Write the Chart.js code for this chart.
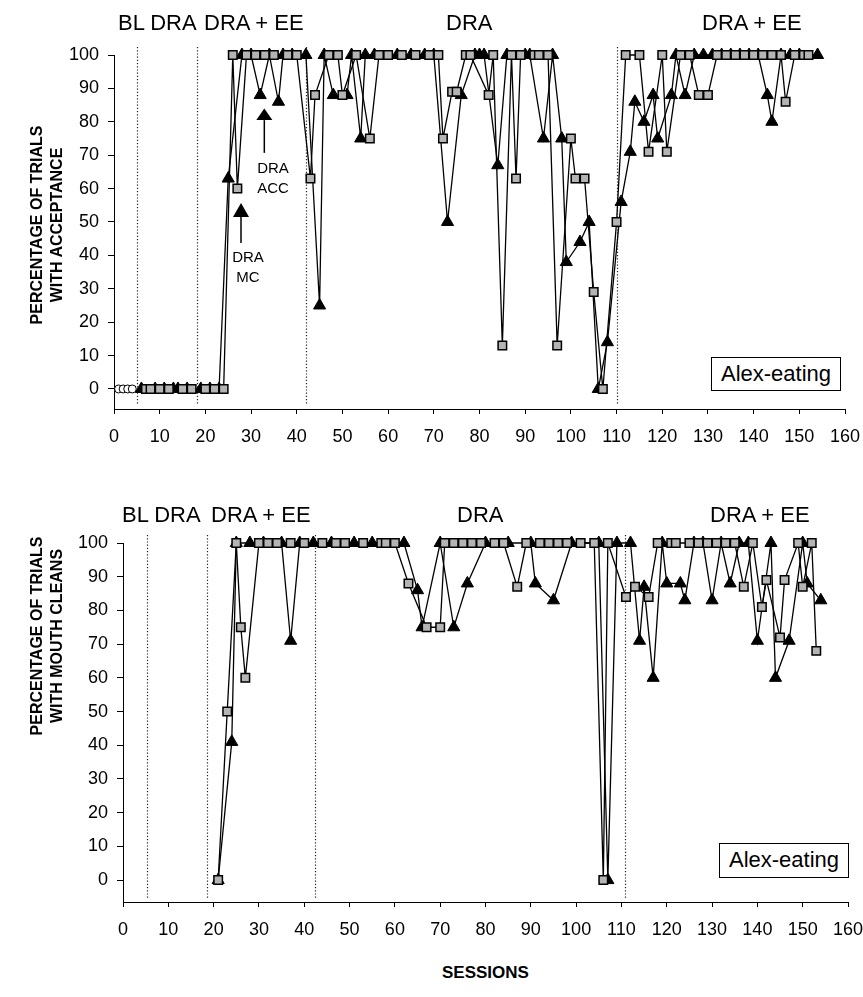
<!DOCTYPE html>
<html>
<head>
<meta charset="utf-8">
<script src="https://cdn.jsdelivr.net/npm/chart.js@4.4.1/dist/chart.umd.min.js"></script>
<style>
  body { margin: 0; background: #fff; font-family: Arial, "Liberation Sans", sans-serif; overflow: hidden; }
  #wrap { position: relative; width: 863px; height: 997px; }
  canvas { position: absolute; left: 0; }
  .lbl { position: absolute; white-space: nowrap; color: #000; line-height: 1; }
  .phase { font-size: 22px; }
  .ytitle { position: absolute; width: 260px; height: 40px; font-size: 16px; font-weight: bold;
            text-align: center; line-height: 20px; transform: rotate(-90deg); }
  .box { position: absolute; border: 1.5px solid #000; font-size: 22px; text-align: center;
         box-sizing: border-box; background: #fff; }
  .note { position: absolute; font-size: 15px; text-align: center; line-height: 20px; width: 50px; }
</style>
</head>
<body>
<div id="wrap">
  <canvas id="accChart" width="863" height="450" style="top:0"></canvas>
  <canvas id="mcChart" width="863" height="480" style="top:470px"></canvas>

  <div class="lbl phase" style="left:118px;top:12px">BL DRA</div>
  <div class="lbl phase" style="left:204px;top:12px">DRA + EE</div>
  <div class="lbl phase" style="left:446px;top:12px">DRA</div>
  <div class="lbl phase" style="left:702px;top:12px">DRA + EE</div>

  <div class="lbl phase" style="left:122px;top:504px">BL DRA</div>
  <div class="lbl phase" style="left:211px;top:504px">DRA + EE</div>
  <div class="lbl phase" style="left:457px;top:504px">DRA</div>
  <div class="lbl phase" style="left:710px;top:504px">DRA + EE</div>

  <div class="ytitle" style="left:-83px;top:205px">PERCENTAGE OF TRIALS<br>WITH ACCEPTANCE</div>
  <div class="ytitle" style="left:-83px;top:616px">PERCENTAGE OF TRIALS<br>WITH MOUTH CLEANS</div>

  <div class="box" style="left:711px;top:357px;width:130px;height:34px;line-height:31px">Alex-eating</div>
  <div class="box" style="left:719px;top:843px;width:130px;height:35px;line-height:32px">Alex-eating</div>

  <div class="note" style="left:248px;top:158px">DRA<br>ACC</div>
  <div class="note" style="left:223px;top:247px">DRA<br>MC</div>

  <div class="lbl" style="left:442px;top:964px;font-size:17px;font-weight:bold">SESSIONS</div>
</div>

<script>
// axis ticks
const xTicks = [0, 10, 20, 30, 40, 50, 60, 70, 80, 90, 100, 110, 120, 130, 140, 150, 160];
const yTicks = [0, 10, 20, 30, 40, 50, 60, 70, 80, 90, 100];

// phase change lines (sessions)
const accPhases = [5.0, 18.2, 42.0, 110.0];
const mcPhases = [5.3, 18.5, 42.4, 110.8];

// acceptance panel
const blSessions = [1, 2, 3, 4];
const blValues = [0, 0, 0, 0];

const accSqSessions = [7, 8, 10, 12, 15, 17, 20, 22, 24, 26, 27, 29, 31, 33, 35, 38, 40,
  43, 44, 47, 49, 50, 53, 56, 58, 60, 63, 66, 69, 71, 72, 74, 75, 77, 78, 82, 83, 85, 87, 88, 89,
  92, 93, 95, 97, 100, 101, 103, 105, 107,
  110, 112, 115, 117, 120, 121, 124, 126, 128, 130, 132, 134, 136, 138, 140, 142, 144, 146, 147,
  149, 151, 152];
const accSqValues = [0, 0, 0, 0, 0, 0, 0, 0, 0, 100, 60, 100, 100, 100, 100, 100, 100,
  63, 88, 100, 100, 88, 100, 75, 100, 100, 100, 100, 100, 100, 75, 89, 89, 100, 100, 88, 100, 13, 100, 63, 100,
  100, 100, 100, 13, 75, 63, 63, 29, 0,
  50, 100, 100, 71, 100, 71, 100, 100, 88, 88, 100, 100, 100, 100, 100, 100, 100, 100, 86,
  100, 100, 100];

const accTriSessions = [6, 9, 11, 13, 14, 16, 19, 21, 23, 25, 28, 30, 32, 34, 36, 37, 39, 42,
  45, 46, 48, 51, 52, 54, 55, 57, 62, 65, 68, 70, 73, 76, 79, 80, 81, 84, 86, 90, 91, 94, 96, 98,
  99, 102, 104, 106, 108,
  111, 113, 114, 116, 118, 119, 122, 123, 125, 127, 129, 131, 133, 135, 137, 139, 141, 143, 144,
  146, 148, 150, 154];
const accTriValues = [0, 0, 0, 0, 0, 0, 0, 0, 0, 63, 100, 100, 88, 100, 86, 100, 100, 100,
  25, 100, 88, 88, 100, 75, 100, 100, 100, 100, 100, 100, 50, 88, 100, 100, 100, 67, 100, 100, 100, 75, 100, 75,
  38, 44, 50, 0, 14,
  56, 71, 86, 80, 88, 75, 88, 100, 88, 100, 100, 100, 100, 100, 100, 100, 100, 88, 80,
  100, 100, 100, 100];

// mouth clean panel
const mcSqSessions = [21, 23, 25, 26, 27, 30, 32, 34, 37, 40, 44, 47, 49, 53, 57, 58, 60, 63, 67, 70,
  71, 73, 75, 77, 79, 82, 84, 87, 89, 92, 94, 96, 98, 101, 104, 106, 107,
  111, 113, 116, 118, 121, 122, 125, 127, 129, 131, 133, 135, 137, 139, 141, 142, 145, 146, 149,
  150, 152, 153];
const mcSqValues = [0, 50, 100, 75, 60, 100, 100, 100, 100, 100, 100, 100, 100, 100, 100, 100, 100, 88, 75, 75,
  100, 100, 100, 100, 100, 100, 100, 87, 100, 100, 100, 100, 100, 100, 100, 0, 100,
  84, 87, 84, 100, 100, 100, 100, 100, 100, 100, 100, 100, 87, 100, 81, 89, 72, 89, 100,
  87, 100, 68];

const mcTriSessions = [21, 24, 25, 28, 31, 35, 37, 39, 42, 46, 51, 55, 62, 65, 66, 70, 73, 76, 80, 85,
  90, 91, 95, 99, 105, 107, 109,
  112, 114, 115, 117, 119, 120, 123, 124, 126, 128, 130, 132, 134, 136, 138, 140, 143, 144, 147,
  150, 151, 154];
const mcTriValues = [0, 41, 100, 100, 100, 100, 71, 100, 100, 100, 100, 100, 100, 86, 75, 100, 75, 88, 100, 100,
  100, 88, 83, 100, 100, 0, 100,
  100, 71, 87, 60, 100, 88, 88, 83, 100, 100, 83, 100, 88, 100, 100, 71, 100, 60, 71,
  100, 88, 83];

const pts = (xs, ys) => xs.map((x, i) => ({ x: x, y: ys[i] }));

Chart.defaults.font.family = 'Arial, "Liberation Sans", sans-serif';
Chart.defaults.color = '#000';

// dotted phase lines + arrows
const phasePlugin = {
  id: 'phases',
  beforeDatasetsDraw(chart, args, opts) {
    const { ctx, chartArea, scales } = chart;
    ctx.save();
    ctx.strokeStyle = '#222';
    ctx.lineWidth = 1.2;
    ctx.setLineDash([1.2, 2]);
    (opts.lines || []).forEach(s => {
      const x = Math.round(scales.x.getPixelForValue(s)) + 0.5;
      ctx.beginPath();
      ctx.moveTo(x, chartArea.top - 8);
      ctx.lineTo(x, chartArea.bottom - 4);
      ctx.stroke();
    });
    ctx.restore();
  },
  afterDatasetsDraw(chart, args, opts) {
    const { ctx, scales } = chart;
    ctx.save();
    ctx.fillStyle = '#000';
    ctx.strokeStyle = '#000';
    ctx.lineWidth = 1.5;
    (opts.arrows || []).forEach(a => {
      const x = scales.x.getPixelForValue(a.x);
      const tip = scales.y.getPixelForValue(a.tip);
      const base = scales.y.getPixelForValue(a.base);
      const tail = scales.y.getPixelForValue(a.tail);
      ctx.beginPath();
      ctx.moveTo(x, base);
      ctx.lineTo(x, tail);
      ctx.stroke();
      ctx.beginPath();
      ctx.moveTo(x, tip);
      ctx.lineTo(x - 8, base);
      ctx.lineTo(x + 8, base);
      ctx.closePath();
      ctx.fill();
    });
    ctx.restore();
  }
};

function sqSet(data) {
  return {
    data: data, showLine: true, clip: false,
    borderColor: '#000', borderWidth: 1.3,
    pointStyle: 'rect', pointRadius: 6, pointBackgroundColor: '#b4b4b4',
    pointBorderColor: '#000', pointBorderWidth: 1.5
  };
}
function triSet(data) {
  return {
    data: data, showLine: true, clip: false,
    borderColor: '#000', borderWidth: 1.3,
    pointStyle: 'triangle', pointRadius: 7, pointBackgroundColor: '#000',
    pointBorderColor: '#000', pointBorderWidth: 1
  };
}

function makePanel(id, datasets, yMin, pad, yWidth, xHeight, phases, arrows) {
  return new Chart(document.getElementById(id), {
    type: 'scatter',
    data: { datasets: datasets },
    options: {
      responsive: false,
      animation: false,
      devicePixelRatio: 1,
      layout: { padding: pad },
      plugins: {
        legend: { display: false },
        tooltip: { enabled: false },
        phases: { lines: phases, arrows: arrows }
      },
      scales: {
        x: {
          type: 'linear', min: 0, max: 160,
          afterBuildTicks: s => { s.ticks = xTicks.map(v => ({ value: v })); },
          afterFit: s => { s.height = xHeight; s.paddingLeft = 0; s.paddingRight = 0; },
          ticks: { font: { size: 18 }, padding: 12, maxRotation: 0, autoSkip: false },
          grid: { drawOnChartArea: false, color: '#000', tickLength: 5 },
          border: { color: '#000', width: 1 }
        },
        y: {
          type: 'linear', min: yMin, max: 100,
          afterBuildTicks: s => { s.ticks = yTicks.map(v => ({ value: v })); },
          afterFit: s => { s.width = yWidth; },
          ticks: { font: { size: 18 }, padding: 9 },
          grid: { drawOnChartArea: false, color: '#000', tickLength: 6 },
          border: { color: '#000', width: 1 }
        }
      }
    },
    plugins: [phasePlugin]
  });
}

makePanel('accChart', [
  sqSet(pts(accSqSessions, accSqValues)),
  triSet(pts(accTriSessions, accTriValues)),
  {
    data: pts(blSessions, blValues), showLine: false, clip: false,
    pointStyle: 'circle', pointRadius: 4, pointBackgroundColor: '#fff',
    pointBorderColor: '#000', pointBorderWidth: 1
  }
], -6, { top: 55, right: 18, left: 0, bottom: 0 }, 114, 41, accPhases, [
  { x: 32.9, tip: 84, base: 80.5, tail: 70.7 },
  { x: 27.8, tip: 55.7, base: 51.5, tail: 43.7 }
]);

makePanel('mcChart', [
  sqSet(pts(mcSqSessions, mcSqValues)),
  triSet(pts(mcTriSessions, mcTriValues))
], -6.5, { top: 73, right: 15, left: 0, bottom: 0 }, 123, 48, mcPhases, []);
</script>
</body>
</html>
